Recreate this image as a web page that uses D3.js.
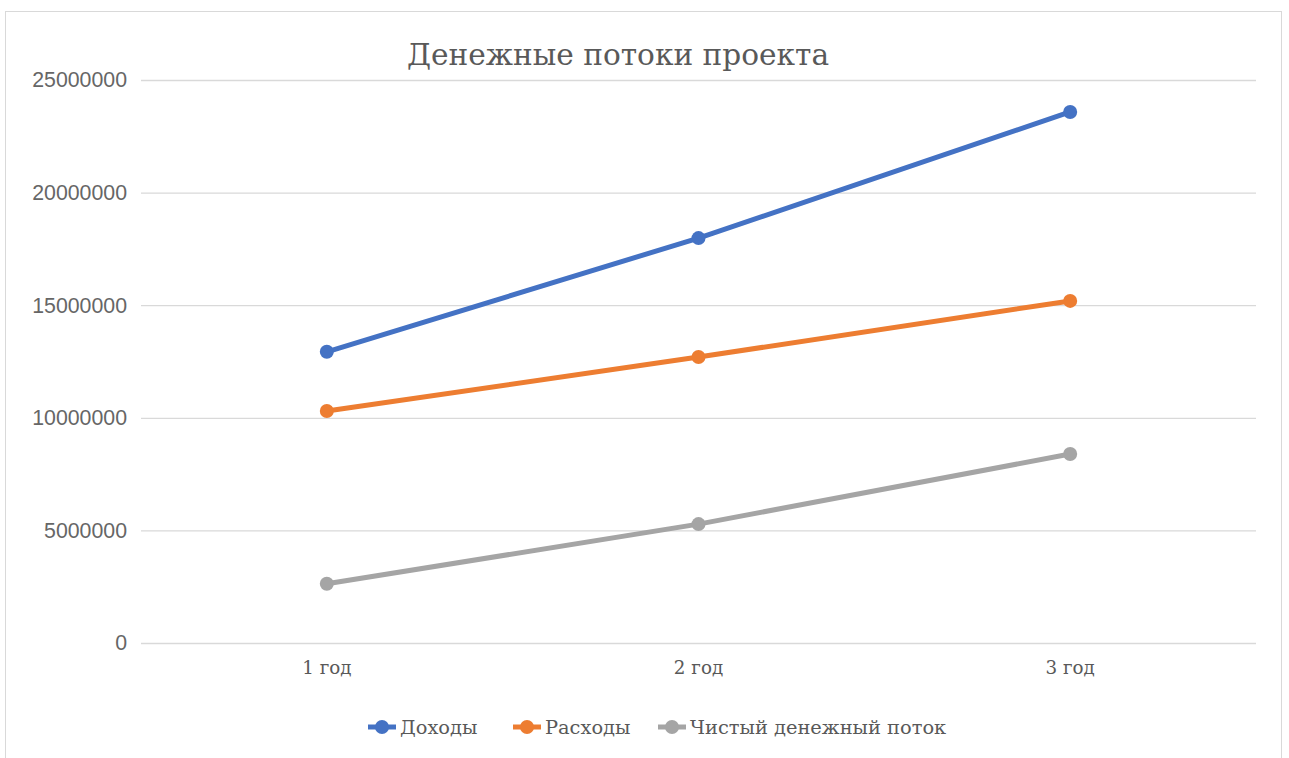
<!DOCTYPE html>
<html><head><meta charset="utf-8">
<script src="https://cdn.jsdelivr.net/npm/d3@7"></script>
<style>body{margin:0;background:#fff;}svg{display:block;}</style>
</head><body>
<svg id="c" width="1289" height="758"></svg>
<script>
const categories = ["1 год", "2 год", "3 год"];
const income = [12930000, 17980000, 23580000];
const expenses = [10300000, 12700000, 15190000];
const netFlow = [2630000, 5280000, 8390000];
const seriesNames = ["Доходы", "Расходы", "Чистый денежный поток"];
const seriesColors = ["#4472C4", "#ED7D31", "#A5A5A5"];
const yTicks = [0, 5000000, 10000000, 15000000, 20000000, 25000000];
const title = "Денежные потоки проекта";

(function () {
const serif = "'DejaVu Serif', 'Liberation Serif', serif";
const series = [income, expenses, netFlow].map((v, i) => ({name: seriesNames[i], color: seriesColors[i], values: v}));

const svg = d3.select("#c");
svg.append("rect").attr("x", 5.5).attr("y", 11.5).attr("width", 1276).attr("height", 760)
  .attr("fill", "#fff").attr("stroke", "#D9D9D9").attr("stroke-width", 1);

const pL = 141, pR = 1256, pT = 80, pB = 643;
const x = d3.scaleBand().domain(categories).range([pL, pR]);
const y = d3.scaleLinear().domain([0, 25000000]).range([pB, pT]);

const gy = svg.append("g").attr("transform", `translate(${pL},0)`)
  .call(d3.axisLeft(y).tickValues(yTicks).tickSize(-(pR - pL)).tickFormat(d => d3.format("d")(d)).tickPadding(14));
gy.select(".domain").remove();
gy.selectAll(".tick line").attr("stroke", "#D9D9D9").attr("stroke-width", 1.3);
gy.selectAll(".tick text").attr("fill", "#666666").attr("font-family", "'Liberation Sans', Arial, sans-serif").attr("font-size", 21.3);

const gx = svg.append("g").attr("transform", `translate(0,${pB})`)
  .call(d3.axisBottom(x).tickSize(0).tickPadding(18));
gx.select(".domain").remove();
gx.selectAll(".tick text").attr("fill", "#595959").attr("font-family", serif).attr("font-size", 18.3);

const line = d3.line().x((d, i) => x(categories[i]) + x.bandwidth() / 2).y(d => y(d));

series.forEach(s => {
  svg.append("path").datum(s.values).attr("d", line).attr("fill", "none")
    .attr("stroke", s.color).attr("stroke-width", 5).attr("stroke-linecap", "round");
  svg.selectAll(null).data(s.values).enter().append("circle")
    .attr("cx", (d, i) => x(categories[i]) + x.bandwidth() / 2).attr("cy", d => y(d))
    .attr("r", 7).attr("fill", s.color);
});

svg.append("text").attr("x", 618).attr("y", 65).attr("text-anchor", "middle")
  .attr("fill", "#595959").attr("font-family", serif).attr("font-size", 29.6)
  .text(title);

const legX = [382, 527, 672];
const lg = svg.append("g");
series.forEach((s, i) => {
  const g = lg.append("g").attr("transform", `translate(${legX[i]},727)`);
  g.append("line").attr("x1", -14).attr("x2", 14).attr("stroke", s.color).attr("stroke-width", 5);
  g.append("circle").attr("r", 7).attr("fill", s.color);
  g.append("text").attr("x", 18).attr("dy", "0.35em").attr("fill", "#595959")
    .attr("font-family", serif).attr("font-size", 19.4).text(s.name);
});
})();
</script>
</body></html>
